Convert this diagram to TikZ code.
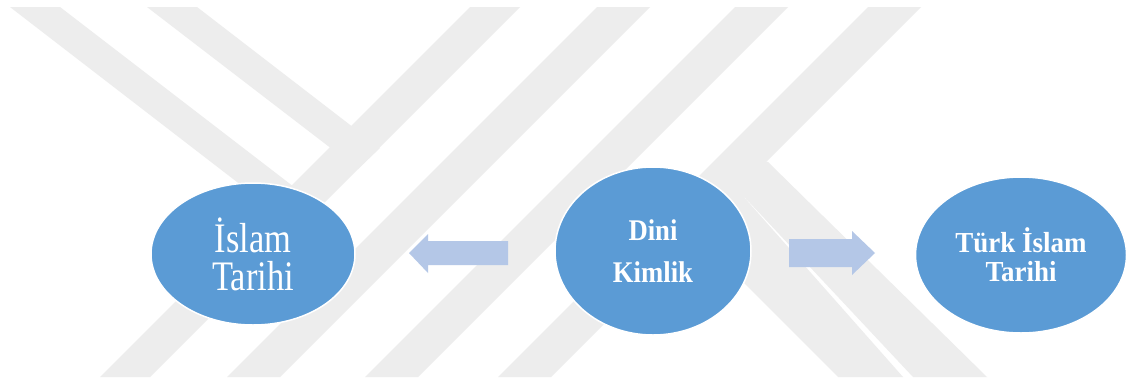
\documentclass[tikz,border=0pt]{standalone}
\usepackage{fontspec}
\setmainfont{Liberation Serif}
\usetikzlibrary{shapes.geometric}
\definecolor{wm}{HTML}{EDEDED}
\definecolor{ell}{HTML}{5B9BD5}
\definecolor{arr}{HTML}{B4C7E7}
\tikzset{
  bubble/.style={ellipse, fill=ell, draw=white, line width=1.5pt, inner sep=0pt, text=white, align=center},
  band/.style={fill=wm, draw=none},
  blockarrow/.style={fill=arr, draw=none},
}
\newcommand{\sx}[2]{\scalebox{#1}[1]{#2}}
\begin{document}
\begin{tikzpicture}[x=1pt,y=-1pt]
\useasboundingbox[fill=white] (0,0) rectangle (1128,381);
% watermark
\begin{scope}
  \clip (0,7) rectangle (1128,377);
  \fill[band] (10,7) -- (60,7) -- (320,207) -- (298,229) -- cycle;
  \fill[band] (147,7) -- (197,7) -- (380,148) -- (358,169) -- cycle;
  \fill[band] (470,7) -- (520,7) -- (150,377) -- (100,377) -- cycle;
  \fill[band] (597,7) -- (650,7) -- (280,377) -- (227,377) -- cycle;
  \fill[band] (735,7) -- (788,7) -- (418,377) -- (365,377) -- cycle;
  \fill[band] (868,7) -- (921,7) -- (551,377) -- (498,377) -- cycle;
  \fill[band] (768,162) -- (987,377) -- (913,377) -- (735,187) -- (903,377) -- (838,377) -- (668,207) -- (720,160) -- cycle;
\end{scope}
% block arrows
\fill[blockarrow] (508,241) -- (428,241) -- (428,234) -- (409,253) -- (428,273) -- (428,265) -- (508,265) -- cycle;
\fill[blockarrow] (789,239) -- (852,239) -- (852,231) -- (875,253) -- (852,275) -- (852,267) -- (789,267) -- cycle;
% ellipses
\node[bubble, minimum width=204pt, minimum height=142pt, font=\fontsize{42}{38}\selectfont] (islam) at (253,254) {\sx{0.82}{İslam}\\\sx{0.82}{Tarihi}};
\node[bubble, minimum width=196pt, minimum height=168pt, font=\bfseries\fontsize{30}{42}\selectfont] (dini) at (653,251) {\sx{0.89}{Dini}\\\sx{0.89}{Kimlik}};
\node[bubble, minimum width=211pt, minimum height=156pt, font=\bfseries\fontsize{29}{29}\selectfont] (turk) at (1021,255) {\sx{0.93}{Türk İslam}\\\sx{0.93}{Tarihi}};
\end{tikzpicture}
\end{document}
